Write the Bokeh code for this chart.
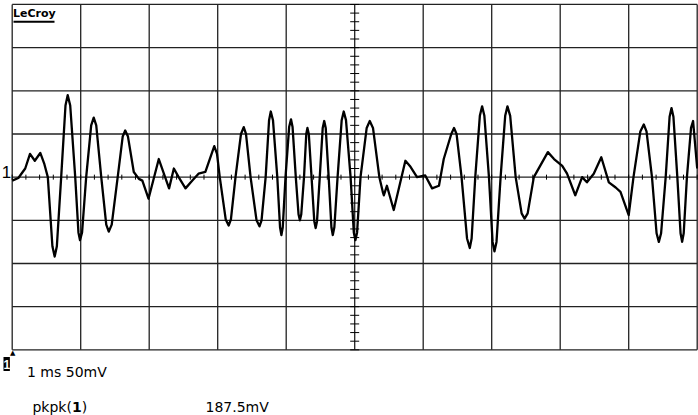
import numpy as np
from bokeh.plotting import figure
from bokeh.models import Label
from bokeh.embed import file_html
from bokeh.resources import INLINE

# Waveform: time in ms (1 ms/div), voltage in mV (50 mV/div)
t_ms = [0.00, 0.09, 0.19, 0.26, 0.33, 0.41, 0.47, 0.52, 0.587, 0.62, 0.652, 0.715,
        0.778, 0.81, 0.847, 0.92, 0.967, 0.99, 1.02, 1.08, 1.153, 1.19, 1.227, 1.30,
        1.373, 1.41, 1.453, 1.54, 1.613, 1.65, 1.69, 1.775, 1.85, 1.90, 1.99, 2.14,
        2.29, 2.36, 2.43, 2.53, 2.63, 2.72, 2.82, 2.95, 2.99, 3.03, 3.117, 3.16,
        3.193, 3.26, 3.34, 3.38, 3.413, 3.48, 3.567, 3.61, 3.64, 3.70, 3.75, 3.775,
        3.807, 3.87, 3.91, 3.93, 3.95, 3.99, 4.043, 4.07, 4.093, 4.14, 4.18, 4.20,
        4.22, 4.26, 4.293, 4.31, 4.33, 4.37, 4.41, 4.43, 4.45, 4.49, 4.533, 4.555,
        4.577, 4.62, 4.66, 4.68, 4.703, 4.75, 4.81, 4.84, 4.873, 4.94, 4.987, 5.01,
        5.035, 5.085, 5.175, 5.22, 5.267, 5.36, 5.41, 5.425, 5.47, 5.57, 5.74, 5.815,
        5.91, 6.03, 6.13, 6.23, 6.30, 6.41, 6.45, 6.487, 6.56, 6.64, 6.68, 6.707,
        6.76, 6.827, 6.86, 6.893, 6.96, 7.013, 7.04, 7.07, 7.13, 7.197, 7.23, 7.27,
        7.35, 7.437, 7.48, 7.525, 7.615, 7.82, 7.91, 8.03, 8.10, 8.22, 8.32, 8.39,
        8.49, 8.60, 8.71, 8.81, 8.88, 9.00, 9.07, 9.17, 9.22, 9.26, 9.34, 9.407,
        9.44, 9.473, 9.54, 9.597, 9.625, 9.653, 9.71, 9.757, 9.78, 9.803, 9.85, 9.91,
        9.94, 10.0]
v_mV = [-4, -1, 10, 27, 19, 28, 15, 0, -80, -92, -80, 0,
        83, 95, 83, 0, -64, -73, -64, 0, 60, 69, 60, 0,
        -55, -63, -55, 0, 47, 54, 47, 6, -2, -4, -25, 21,
        -13, 10, 0, -13, -4, 4, 6, 36, 27, 0, -49, -56,
        -49, 0, 50, 58, 50, 0, -50, -57, -50, 0, 66, 76,
        66, 0, -58, -67, -58, 0, 58, 67, 58, 0, -43, -50,
        -43, 0, 50, 57, 50, 0, -51, -59, -51, 0, 57, 65,
        57, 0, -58, -67, -58, 0, 66, 76, 66, 0, -64, -73,
        -64, 0, 57, 65, 57, 0, -17, -21, -10, -38, 19, 12,
        0, 2, -13, -10, 21, 50, 57, 50, 0, -71, -82, -71,
        0, 71, 82, 71, 0, -75, -86, -75, 0, 71, 82, 71,
        0, -42, -48, -42, 0, 29, 21, 13, 4, -21, 0, -6,
        4, 23, -6, -12, -17, -44, 0, 53, 61, 53, 0, -65,
        -75, -65, 0, 70, 80, 70, 0, -65, -75, -65, 0, 57,
        65, 10]

time_divs = list(range(0, 11))          # 10 divisions of 1 ms
volt_divs = list(range(-200, 201, 50))  # 8 divisions of 50 mV
timebase_text = "1 ms 50mV"
meas_name = "pkpk("
meas_chan = "1"
meas_value = "187.5mV"

p = figure(width=698, height=415, x_range=(-0.1708, 10.019),
           y_range=(-276.05, 204.59),
           output_backend="svg", toolbar_location=None,
           min_border_left=0, min_border_right=0, min_border_top=0,
           min_border_bottom=0)
p.xaxis.visible = False
p.yaxis.visible = False
p.grid.visible = False
p.outline_line_color = None
p.background_fill_color = "white"
p.border_fill_color = "white"

# graticule
p.segment(x0=time_divs, y0=[volt_divs[0]] * len(time_divs),
          x1=time_divs, y1=[volt_divs[-1]] * len(time_divs),
          line_color="#222222", line_width=1.3)
p.segment(x0=[time_divs[0]] * len(volt_divs), y0=volt_divs,
          x1=[time_divs[-1]] * len(volt_divs), y1=volt_divs,
          line_color="#222222", line_width=1.3)

# minor ticks on the centre cross
xt = np.arange(0, 10.001, 0.2)
yt = np.arange(-200, 201, 10)
p.scatter(xt, np.zeros_like(xt), marker="dash", size=5, angle=np.pi / 2,
          line_color="black", line_width=1)
p.scatter(np.full(len(yt), 5.0), yt, marker="dash", size=9,
          line_color="black", line_width=1)

# trace
p.line(t_ms, v_mV, line_color="black", line_width=2.3, line_join="round")

# LeCroy logo
p.add_layout(Label(x=0.012, y=197.1, text="LeCroy", text_font="DejaVu Sans",
                   text_font_size="11px", text_font_style="bold",
                   text_baseline="top", text_align="left", text_color="black"))
p.segment(x0=[0.019], y0=[179.9], x1=[0.6175], y1=[179.9],
          line_color="black", line_width=2)

# channel marker
p.add_layout(Label(x=-0.153, y=6.1, text="1", text_font="Liberation Sans",
                   text_font_size="17px", text_baseline="alphabetic",
                   text_align="left", text_color="black"))

# trigger arrow and inverted channel box
p.add_layout(Label(x=0.009, y=-199.2, text="▲", text_font="DejaVu Sans",
                   text_font_size="7px", text_baseline="top",
                   text_align="center", text_color="black"))
p.quad(left=[-0.127], right=[-0.034], top=[-208.4], bottom=[-224.4],
       fill_color="black", line_color=None)
p.add_layout(Label(x=-0.08, y=-216.6, text="1", text_font="Liberation Sans",
                   text_font_size="12px", text_font_style="bold",
                   text_baseline="middle", text_align="center",
                   text_color="white"))

p.add_layout(Label(x=0.216, y=-225.6, text=timebase_text, text_font="DejaVu Sans",
                   text_font_size="14px", text_baseline="alphabetic",
                   text_align="left", text_color="black"))
p.add_layout(Label(x=0.296, y=-265.7, text=meas_name, text_font="DejaVu Sans",
                   text_font_size="14px", text_baseline="alphabetic",
                   text_align="left", text_color="black"))
p.add_layout(Label(x=0.873, y=-265.7, text=meas_chan, text_font="DejaVu Sans",
                   text_font_size="14px", text_font_style="bold",
                   text_baseline="alphabetic", text_align="left",
                   text_color="black"))
p.add_layout(Label(x=1.015, y=-265.7, text=")", text_font="DejaVu Sans",
                   text_font_size="14px", text_baseline="alphabetic",
                   text_align="left", text_color="black"))
p.add_layout(Label(x=2.822, y=-265.7, text=meas_value, text_font="DejaVu Sans",
                   text_font_size="14px", text_baseline="alphabetic",
                   text_align="left", text_color="black"))

open("out.html", "w").write(file_html(p, INLINE))
